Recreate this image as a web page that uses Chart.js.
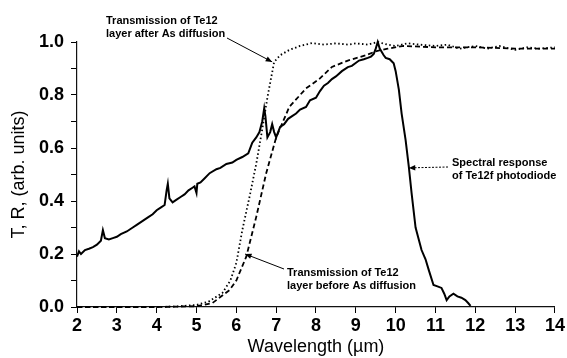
<!DOCTYPE html>
<html>
<head>
<meta charset="utf-8">
<script src="https://cdn.jsdelivr.net/npm/chart.js@4.4.1/dist/chart.umd.min.js"></script>
<style>
  html, body { margin: 0; padding: 0; background: #fff; }
  #wrap { width: 567px; height: 358px; }
</style>
</head>
<body>
<div id="wrap"><canvas id="chart" width="567" height="358"></canvas></div>
<script>
// spectral response of Te12f photodiode (solid)
const responseX = [2.0, 2.05, 2.1, 2.2, 2.3, 2.4, 2.5, 2.6, 2.65, 2.7, 2.8, 2.9, 3.0, 3.1, 3.25, 3.4, 3.5, 3.65, 3.8, 3.9,
  4.0, 4.1, 4.2, 4.25, 4.28, 4.32, 4.4, 4.5, 4.6, 4.7, 4.8, 4.9, 4.95, 5.0, 5.02, 5.1, 5.2, 5.33, 5.5, 5.6,
  5.75, 5.9, 6.0, 6.15, 6.3, 6.4, 6.5, 6.58, 6.65, 6.7, 6.73, 6.78, 6.85, 6.9, 6.95, 7.0, 7.05, 7.1, 7.2, 7.3,
  7.4, 7.5, 7.6, 7.75, 7.85, 8.0, 8.1, 8.2, 8.3, 8.4, 8.5, 8.65, 8.8, 8.9, 9.08, 9.2, 9.3, 9.38, 9.45, 9.5,
  9.55, 9.6, 9.7, 9.75, 9.85, 9.95, 10.0, 10.08, 10.15, 10.25, 10.33, 10.4, 10.5, 10.65, 10.75, 10.83, 10.95, 11.05, 11.15, 11.22,
  11.28, 11.35, 11.45, 11.55, 11.65, 11.75, 11.82, 11.88];
const responseY = [0.19, 0.21, 0.20, 0.215, 0.22, 0.226, 0.235, 0.25, 0.29, 0.26, 0.255, 0.26, 0.265, 0.275, 0.285, 0.30, 0.31, 0.325, 0.34, 0.35,
  0.365, 0.375, 0.385, 0.44, 0.465, 0.41, 0.395, 0.405, 0.415, 0.425, 0.44, 0.45, 0.455, 0.43, 0.465, 0.47, 0.485, 0.505, 0.52, 0.525,
  0.54, 0.545, 0.555, 0.566, 0.58, 0.62, 0.64, 0.66, 0.70, 0.75, 0.72, 0.64, 0.66, 0.69, 0.66, 0.64, 0.66, 0.68, 0.69, 0.71,
  0.72, 0.73, 0.745, 0.755, 0.78, 0.79, 0.815, 0.835, 0.845, 0.86, 0.87, 0.89, 0.905, 0.91, 0.93, 0.935, 0.94, 0.945, 0.955, 0.975,
  1.0, 0.975, 0.95, 0.94, 0.935, 0.92, 0.89, 0.82, 0.73, 0.63, 0.53, 0.43, 0.30, 0.215, 0.18, 0.14, 0.083, 0.078, 0.072, 0.05,
  0.026, 0.04, 0.05, 0.04, 0.035, 0.026, 0.015, 0.004];

// transmission after As diffusion (dotted)
const afterX = [2, 3, 4, 4.5, 5.0, 5.3, 5.65, 5.85, 6.0, 6.15, 6.33, 6.5, 6.65, 6.78, 6.88, 6.95, 7.1, 7.33, 7.6, 7.9,
  8.2, 8.5, 8.8, 9.0, 9.3, 9.55, 9.8, 10.0, 10.3, 10.6, 11.0, 11.3, 11.6, 12.0, 12.3, 12.6, 13.0, 13.3, 13.6, 14.0];
const afterY = [0, 0, 0, 0.002, 0.008, 0.02, 0.053, 0.1, 0.166, 0.29, 0.415, 0.54, 0.67, 0.79, 0.87, 0.925, 0.95, 0.97, 0.985, 0.996,
  0.99, 0.995, 0.99, 0.995, 0.99, 1.0, 0.99, 0.985, 0.995, 0.99, 0.985, 0.99, 0.975, 0.985, 0.975, 0.985, 0.97, 0.98, 0.975, 0.98];

// transmission before As diffusion (dashed)
const beforeX = [2, 4, 5, 5.4, 5.83, 6.0, 6.25, 6.5, 6.75, 7.0, 7.33, 7.75, 8.08, 8.4, 8.8, 9.25, 9.5, 9.8, 10.2, 11, 12, 13, 14];
const beforeY = [0, 0, 0.003, 0.015, 0.064, 0.1, 0.19, 0.34, 0.505, 0.64, 0.755, 0.825, 0.86, 0.906, 0.93, 0.95, 0.965, 0.975, 0.985, 0.98, 0.98, 0.975, 0.975];

const xTicks = [2, 3, 4, 5, 6, 7, 8, 9, 10, 11, 12, 13, 14];
const yTicks = [0.0, 0.2, 0.4, 0.6, 0.8, 1.0];

function pts(xs, ys) {
  return xs.map((x, i) => ({ x: x, y: ys[i] }));
}

// text notes with arrows; arrow tips are in data units
const notes = [
  { lines: ['Transmission of Te12', 'layer after As diffusion'], x: 106, y: 21, from: [227, 38], tip: [6.9, 0.925], dashed: false },
  { lines: ['Spectral response', 'of Te12f photodiode'], x: 452, y: 163, from: [448, 167], tip: [10.33, 0.525], dashed: true },
  { lines: ['Transmission of Te12', 'layer before As diffusion'], x: 287, y: 273, from: [284, 269], tip: [6.22, 0.2], dashed: false }
];

const notePlugin = {
  id: 'notes',
  afterDraw(c) {
    const ctx = c.ctx;
    const xs = c.scales.x, ys = c.scales.y;
    ctx.save();
    ctx.fillStyle = '#000';
    ctx.strokeStyle = '#000';
    ctx.font = 'bold 11px "Liberation Sans", Arial, sans-serif';
    ctx.textBaseline = 'middle';
    ctx.textAlign = 'left';
    notes.forEach(n => {
      n.lines.forEach((t, i) => ctx.fillText(t, n.x, n.y + i * 13));
      const tx = xs.getPixelForValue(n.tip[0]);
      const ty = ys.getPixelForValue(n.tip[1]);
      const [fx, fy] = n.from;
      ctx.lineWidth = 1;
      ctx.setLineDash(n.dashed ? [2, 1.5] : []);
      ctx.beginPath();
      ctx.moveTo(fx, fy);
      ctx.lineTo(tx, ty);
      ctx.stroke();
      ctx.setLineDash([]);
      const a = Math.atan2(ty - fy, tx - fx);
      ctx.beginPath();
      ctx.moveTo(tx, ty);
      ctx.lineTo(tx - 7 * Math.cos(a - 0.4), ty - 7 * Math.sin(a - 0.4));
      ctx.lineTo(tx - 7 * Math.cos(a + 0.4), ty - 7 * Math.sin(a + 0.4));
      ctx.closePath();
      ctx.fill();
    });
    ctx.restore();
  }
};

const axisFont = { family: '"Liberation Sans", Arial, sans-serif', size: 18 };
const tickFont = { family: '"Liberation Sans", Arial, sans-serif', size: 18, weight: 'bold' };

new Chart(document.getElementById('chart'), {
  type: 'line',
  data: {
    datasets: [
      { label: 'Spectral response', data: pts(responseX, responseY), borderColor: '#000', borderWidth: 2 },
      { label: 'After As diffusion', data: pts(afterX, afterY), borderColor: '#000', borderWidth: 1.8, borderDash: [1.5, 2.5] },
      { label: 'Before As diffusion', data: pts(beforeX, beforeY), borderColor: '#000', borderWidth: 1.8, borderDash: [5, 3] }
    ]
  },
  options: {
    responsive: false,
    animation: false,
    events: [],
    layout: { padding: { top: 42, right: 10, left: 0, bottom: 0 } },
    elements: { point: { radius: 0 }, line: { tension: 0 } },
    datasets: { line: { clip: 4 } },
    plugins: { legend: { display: false }, tooltip: { enabled: false } },
    scales: {
      x: {
        type: 'linear', min: 2, max: 14,
        afterBuildTicks: s => { s.ticks = xTicks.map(v => ({ value: v })); },
        afterFit: s => { s.height = 51; },
        grid: { drawOnChartArea: false, drawTicks: true, tickLength: 6, color: '#000' },
        border: { display: true, color: '#111', width: 1.2 },
        ticks: { color: '#000', font: tickFont, padding: 2, maxRotation: 0, autoSkip: false },
        title: { display: true, text: 'Wavelength (µm)', color: '#000', font: axisFont, padding: 0 }
      },
      y: {
        type: 'linear', min: 0, max: 1,
        afterBuildTicks: s => {
          const t = [];
          for (let i = 0; i <= 10; i++) t.push({ value: i / 10 });
          s.ticks = t;
        },
        afterFit: s => { s.width = 77; },
        grid: { drawOnChartArea: false, drawTicks: true, tickLength: 6, color: '#000' },
        border: { display: true, color: '#111', width: 1.2 },
        ticks: {
          color: '#000', font: tickFont, padding: 7, autoSkip: false,
          callback: v => yTicks.some(t => Math.abs(t - v) < 1e-6) ? v.toFixed(1) : ''
        },
        title: { display: true, text: 'T, R, (arb. units)', color: '#000', font: axisFont, padding: { top: 8, bottom: 0 } }
      }
    }
  },
  plugins: [notePlugin]
});
</script>
</body>
</html>
